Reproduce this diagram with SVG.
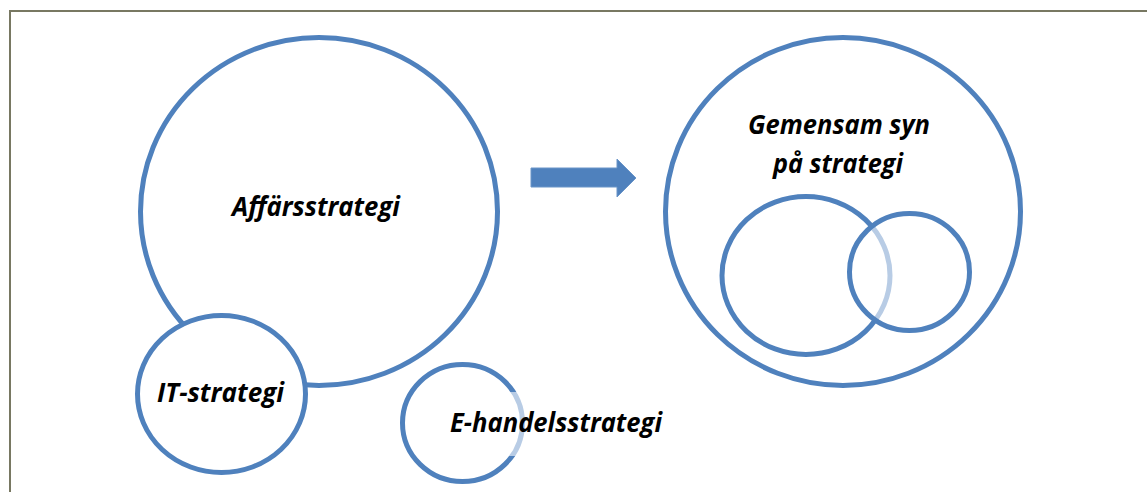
<svg xmlns="http://www.w3.org/2000/svg" width="1147" height="492" viewBox="0 0 1147 492">
  <style>
    .ring { fill: #ffffff; stroke: #4f81bd; stroke-width: 5; }
    .lbl { font-family: "Open Sans", "Liberation Sans", sans-serif; font-weight: bold; font-style: italic; font-size: 26px; fill: #000000; }
    .frame { stroke: #787862; stroke-width: 2; fill: none; }
  </style>
  <rect x="0" y="0" width="1147" height="492" fill="#ffffff"/>
  <g id="frame">
    <line class="frame" x1="9" y1="11" x2="1147" y2="11"/>
    <line class="frame" x1="10" y1="10" x2="10" y2="492"/>
  </g>
  <g id="affarsstrategi">
    <ellipse class="ring" cx="319" cy="211.5" rx="178.5" ry="174"/>
    <text class="lbl" x="232" y="216" textLength="168" lengthAdjust="spacingAndGlyphs">Affärsstrategi</text>
  </g>
  <g id="it-strategi">
    <ellipse class="ring" cx="221.5" cy="394" rx="84" ry="78.5"/>
    <text class="lbl" x="157" y="402" textLength="127" lengthAdjust="spacingAndGlyphs">IT-strategi</text>
  </g>
  <g id="e-handelsstrategi">
    <ellipse class="ring" cx="462.5" cy="423" rx="60" ry="58.5"/>
    <rect x="442" y="392" width="232" height="64" fill="#ffffff" fill-opacity="0.6"/>
    <text class="lbl" x="450" y="432" textLength="212" lengthAdjust="spacingAndGlyphs">E-handelsstrategi</text>
  </g>
  <g id="connectors">
    <polygon points="531,168 617,168 617,159 636,178 617,197 617,187 531,187" fill="#4f81bd" stroke="#6a95c8" stroke-width="1"/>
  </g>
  <g id="gemensam-syn">
    <ellipse class="ring" cx="843" cy="211.5" rx="177.5" ry="174"/>
    <text class="lbl" x="748" y="134" textLength="182" lengthAdjust="spacingAndGlyphs">Gemensam syn</text>
    <text class="lbl" x="773" y="173" textLength="130" lengthAdjust="spacingAndGlyphs">på strategi</text>
  </g>
  <g id="venn-left">
    <ellipse class="ring" cx="806" cy="275.5" rx="84" ry="79"/>
  </g>
  <g id="venn-right">
    <ellipse cx="909.5" cy="272" rx="60" ry="58.5" fill="#ffffff" fill-opacity="0.6" stroke="#4f81bd" stroke-width="5"/>
  </g>
</svg>
